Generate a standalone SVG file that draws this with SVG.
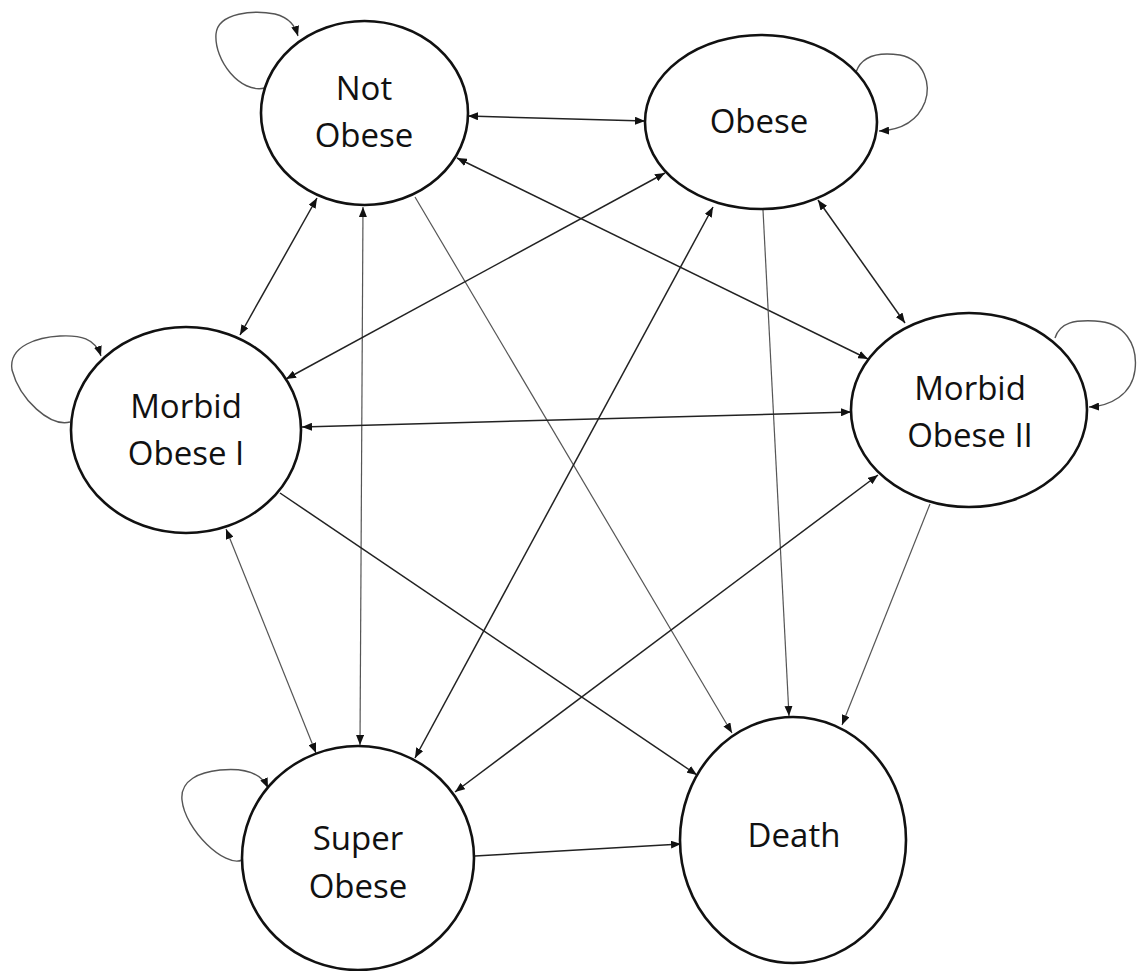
<svg xmlns="http://www.w3.org/2000/svg" width="1138" height="971" viewBox="0 0 1138 971">
<style>
.node{fill:#fff;stroke:#111;stroke-width:2.6}
.lbl{font-family:"Open Sans","Liberation Sans",sans-serif;font-size:33px;fill:#111;text-anchor:middle}
.c{fill:none;stroke:#222;stroke-width:1.5}
.g{fill:none;stroke:#555;stroke-width:1.2}
.loop{fill:none;stroke:#555;stroke-width:1.4}
</style>
<defs>
<marker id="ah" viewBox="0 0 10 8" refX="10" refY="4" markerWidth="10" markerHeight="8" markerUnits="userSpaceOnUse" orient="auto-start-reverse">
<path d="M0,0 L10,4 L0,8 Z" fill="#111"/>
</marker>
</defs>
<rect width="1138" height="971" fill="#fff"/>
<g id="connectors">
<line class="c" x1="468" y1="116" x2="645" y2="121" marker-start="url(#ah)" marker-end="url(#ah)"/>
<line class="c" x1="317" y1="198" x2="240" y2="335" marker-start="url(#ah)" marker-end="url(#ah)"/>
<line class="g" x1="363" y1="207" x2="360" y2="745" marker-start="url(#ah)" marker-end="url(#ah)"/>
<line class="g" x1="415" y1="197" x2="732" y2="733" marker-end="url(#ah)"/>
<line class="c" x1="457" y1="158" x2="868" y2="359" marker-start="url(#ah)" marker-end="url(#ah)"/>
<line class="c" x1="665" y1="173" x2="286" y2="379" marker-start="url(#ah)" marker-end="url(#ah)"/>
<line class="c" x1="713" y1="207" x2="415" y2="758" marker-start="url(#ah)" marker-end="url(#ah)"/>
<line class="g" x1="763" y1="210" x2="789" y2="716" marker-end="url(#ah)"/>
<line class="c" x1="818" y1="200" x2="905" y2="323" marker-start="url(#ah)" marker-end="url(#ah)"/>
<line class="c" x1="302" y1="427" x2="851" y2="412" marker-start="url(#ah)" marker-end="url(#ah)"/>
<line class="g" x1="226" y1="529" x2="316" y2="753" marker-start="url(#ah)" marker-end="url(#ah)"/>
<line class="c" x1="280" y1="493" x2="697" y2="775" marker-end="url(#ah)"/>
<line class="c" x1="878" y1="475" x2="455" y2="792" marker-start="url(#ah)" marker-end="url(#ah)"/>
<line class="g" x1="930" y1="504" x2="842" y2="725" marker-end="url(#ah)"/>
<line class="c" x1="475" y1="856" x2="681" y2="844" marker-end="url(#ah)"/>
<path class="loop" d="M265,88 C240,94 214,60 216,34 C218,12 255,10 275,14 C290,18 295,26 298,36" marker-end="url(#ah)"/>
<path class="loop" d="M856,72 C862,55 880,52 900,55 C925,60 931,85 925,102 C918,120 902,130 879,131" marker-end="url(#ah)"/>
<path class="loop" d="M70,422 C50,427 20,400 12,370 C8,345 40,337 60,336 C80,335 95,338 101,356" marker-end="url(#ah)"/>
<path class="loop" d="M1055,338 C1060,322 1075,320 1095,321 C1125,322 1138,345 1135,370 C1132,395 1110,406 1089,407" marker-end="url(#ah)"/>
<path class="loop" d="M242,860 C225,868 185,830 182,800 C180,780 200,772 220,770 C240,768 260,770 268,788" marker-end="url(#ah)"/>
</g>
<g id="not-obese">
<ellipse class="node" cx="364.5" cy="113" rx="103.5" ry="92"/>
<text class="lbl" x="364" y="100">Not</text>
<text class="lbl" x="364" y="147">Obese</text>
</g>
<g id="obese">
<ellipse class="node" cx="761" cy="122" rx="116" ry="87"/>
<text class="lbl" x="759" y="133">Obese</text>
</g>
<g id="morbid-obese-1">
<ellipse class="node" cx="186" cy="430" rx="115" ry="103"/>
<text class="lbl" x="186" y="418">Morbid</text>
<text class="lbl" x="186" y="465">Obese I</text>
</g>
<g id="morbid-obese-2">
<ellipse class="node" cx="969" cy="410" rx="118" ry="97"/>
<text class="lbl" x="970" y="400">Morbid</text>
<text class="lbl" x="970" y="447">Obese II</text>
</g>
<g id="super-obese">
<ellipse class="node" cx="358" cy="858" rx="116" ry="112"/>
<text class="lbl" x="358" y="850">Super</text>
<text class="lbl" x="358" y="898">Obese</text>
</g>
<g id="death">
<ellipse class="node" cx="793" cy="840" rx="113" ry="123"/>
<text class="lbl" x="794" y="847">Death</text>
</g>
</svg>
